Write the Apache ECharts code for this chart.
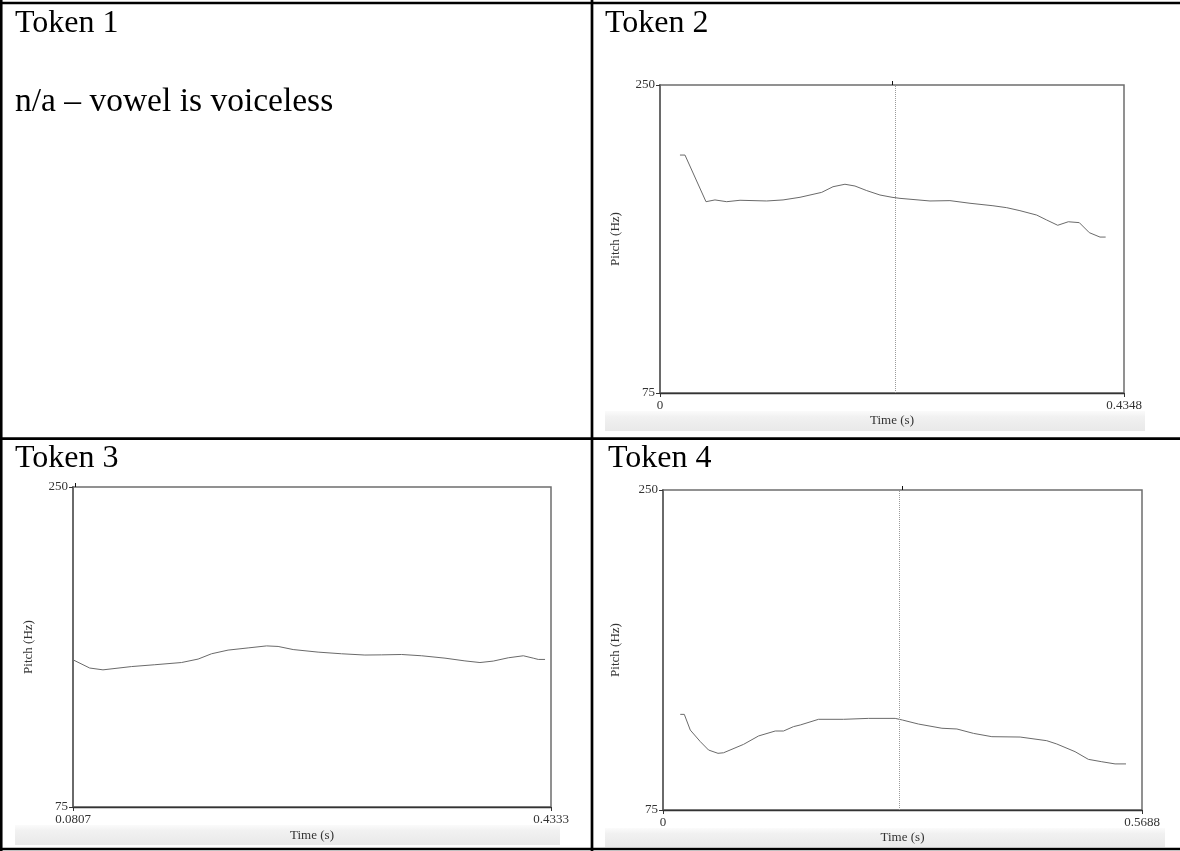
<!DOCTYPE html>
<html>
<head>
<meta charset="utf-8">
<script src="https://cdn.jsdelivr.net/npm/echarts@6/dist/echarts.min.js"></script>
<style>
html,body{margin:0;padding:0;background:#fff;}
#c{width:1180px;height:851px;}
</style>
</head>
<body>
<div id="c"></div>
<script>
// ---- data ----
const tokenLabels = ['Token 1', 'Token 2', 'Token 3', 'Token 4'];
const token1Note = 'n/a \u2013 vowel is voiceless';
const pitchRange = [75, 250];
const pitchTicks = [75, 250];
const yAxisName = 'Pitch (Hz)';
const xAxisName = 'Time (s)';

const token2Range = [0, 0.4348];
const token2Time = [0.0187,0.0234,0.0431,0.0515,0.0625,0.0750,0.1000,0.1153,0.1312,0.1515,0.1621,0.1733,0.1827,0.1937,0.2061,0.2174,0.2249,0.2530,0.2717,0.2905,0.3120,0.3249,0.3373,0.3530,0.3623,0.3727,0.3826,0.3929,0.4023,0.4123,0.4176];
const token2Pitch = [210.2,210.2,183.7,184.7,183.7,184.5,184.1,184.7,186.2,189.0,192.2,193.6,192.6,190.0,187.5,186.2,185.6,184.1,184.3,182.8,181.4,180.3,178.6,176.1,173.3,170.3,172.3,171.8,166.1,163.6,163.6];

const token3Range = [0.0807, 0.4333];
const token3Time = [0.0807,0.0930,0.1028,0.1238,0.1410,0.1607,0.1730,0.1829,0.1951,0.2099,0.2235,0.2320,0.2431,0.2615,0.2788,0.2960,0.3083,0.3231,0.3379,0.3551,0.3698,0.3809,0.3907,0.4018,0.4129,0.4202,0.4239,0.4289];
const token3Pitch = [155.5,151.0,150.0,151.8,152.8,154.0,155.9,158.8,160.8,162.0,163.1,162.8,161.1,159.7,158.8,158.1,158.2,158.4,157.7,156.4,154.9,154.0,154.8,156.6,157.7,156.4,155.7,155.7];

const token4Range = [0, 0.5688];
const token4Time = [0.0205,0.0253,0.0324,0.0443,0.0541,0.0653,0.0719,0.0957,0.1135,0.1333,0.1431,0.1550,0.1630,0.1847,0.2144,0.2440,0.2757,0.2844,0.3034,0.3312,0.3490,0.3687,0.3905,0.4241,0.4557,0.4676,0.4893,0.5051,0.5210,0.5368,0.5498];
const token4Pitch = [127.3,127.3,118.7,112.4,107.8,106.0,106.3,110.9,115.5,118.2,118.2,120.6,121.5,124.6,124.6,125.1,125.1,124.2,122.0,119.7,119.3,116.9,115.1,114.9,112.9,111.1,106.9,102.7,101.4,100.2,100.2];

// Praat cursor positions (s) for tokens 2, 3, 4
const cursorTimes = [0.2174, 0.0827, 0.2844];

// ---- layout ----
const SERIF = "'Liberation Serif','Times New Roman',serif";
const grids = [
  {left: 660, top: 85, width: 464, height: 308, yGap: 38, xGap: 21},
  {left: 73, top: 487, width: 478, height: 320, yGap: 38, xGap: 22},
  {left: 663, top: 490, width: 479, height: 320, yGap: 41, xGap: 21}
];
const ranges = [token2Range, token3Range, token4Range];
const times = [token2Time, token3Time, token4Time];
const pitches = [token2Pitch, token3Pitch, token4Pitch];
const bands = [
  {x: 605, y: 411, w: 540, h: 20},
  {x: 15, y: 825, w: 545, h: 20},
  {x: 605, y: 828, w: 560, h: 19}
];

const zip = (a, b) => a.map((v, i) => [v, b[i]]);
const fmt = v => String(+(+v).toFixed(4));

const option = {
  backgroundColor: '#ffffff',
  animation: false,
  grid: grids.map(g => ({
    left: g.left, top: g.top, width: g.width, height: g.height,
    show: true, borderColor: '#6e6e6e', borderWidth: 1.5, backgroundColor: 'transparent'
  })),
  xAxis: [],
  yAxis: [],
  series: [],
  graphic: []
};

grids.forEach((g, i) => {
  const r = ranges[i];
  option.xAxis.push({
    type: 'value', gridIndex: i, min: r[0], max: r[1], position: 'bottom',
    name: xAxisName, nameLocation: 'middle', nameGap: g.xGap,
    nameTextStyle: {fontFamily: SERIF, fontSize: 13, color: '#333'},
    axisLine: {show: true, lineStyle: {color: '#333', width: 1.3}},
    axisTick: {show: true, inside: false, length: 4, customValues: r, lineStyle: {color: '#333'}},
    axisLabel: {show: true, customValues: r, margin: 6, formatter: fmt,
      fontFamily: SERIF, fontSize: 13, color: '#333'},
    splitLine: {show: false}
  });
  option.xAxis.push({
    type: 'value', gridIndex: i, min: r[0], max: r[1], position: 'top',
    axisLine: {show: false},
    axisTick: {show: true, inside: false, length: 4, customValues: [cursorTimes[i]], lineStyle: {color: '#111', width: 1}},
    axisLabel: {show: false},
    splitLine: {show: false}
  });
  option.yAxis.push({
    type: 'value', gridIndex: i, min: pitchRange[0], max: pitchRange[1],
    name: yAxisName, nameLocation: 'middle', nameGap: g.yGap,
    nameTextStyle: {fontFamily: SERIF, fontSize: 13, color: '#333'},
    axisLine: {show: true, lineStyle: {color: '#666', width: 1.8}},
    axisTick: {show: true, inside: false, length: 4, customValues: pitchTicks, lineStyle: {color: '#333'}},
    axisLabel: {show: true, customValues: pitchTicks, margin: 5,
      fontFamily: SERIF, fontSize: 13, color: '#333'},
    splitLine: {show: false}
  });
  option.series.push({
    type: 'line', xAxisIndex: i * 2, yAxisIndex: i,
    data: zip(times[i], pitches[i]),
    showSymbol: false, symbol: 'none', smooth: false,
    lineStyle: {color: '#6a6a6a', width: 1},
    markLine: {
      silent: true, symbol: 'none', label: {show: false},
      lineStyle: {type: 'dotted', color: '#9a9a9a', width: 1},
      data: [{xAxis: cursorTimes[i]}]
    }
  });
});

// grey caption bands under the pictures
bands.forEach(b => {
  option.graphic.push({
    type: 'rect', z: -10, silent: true,
    shape: {x: b.x, y: b.y, width: b.w, height: b.h},
    style: {fill: new echarts.graphic.LinearGradient(0, 0, 0, 1, [
      {offset: 0, color: '#fbfbfb'}, {offset: 0.3, color: '#f1f1f1'}, {offset: 1, color: '#e9e9e9'}
    ])}
  });
});

// table borders
const L = (x1, y1, x2, y2) => ({type: 'line', silent: true, z: 50,
  shape: {x1, y1, x2, y2}, style: {stroke: '#000', lineWidth: 2.7}});
option.graphic.push(
  L(0, 3, 1180, 3),
  L(0, 438.7, 1180, 438.7),
  L(0, 849, 1180, 849),
  L(1.2, 0, 1.2, 851),
  L(592, 0, 592, 851)
);

// cell texts (y = text top)
const T = (x, y, text, size) => ({type: 'text', silent: true, z: 50, x, y,
  style: {text, fontFamily: SERIF, fontSize: size, fill: '#000', verticalAlign: 'top'}});
option.graphic.push(
  T(15, 8, tokenLabels[0], 32),
  T(605, 8, tokenLabels[1], 32),
  T(15, 443, tokenLabels[2], 32),
  T(608, 443, tokenLabels[3], 32),
  T(15, 85, token1Note, 33.5)
);

const chart = echarts.init(document.getElementById('c'), null, {renderer: 'canvas'});
chart.setOption(option);
</script>
</body>
</html>
